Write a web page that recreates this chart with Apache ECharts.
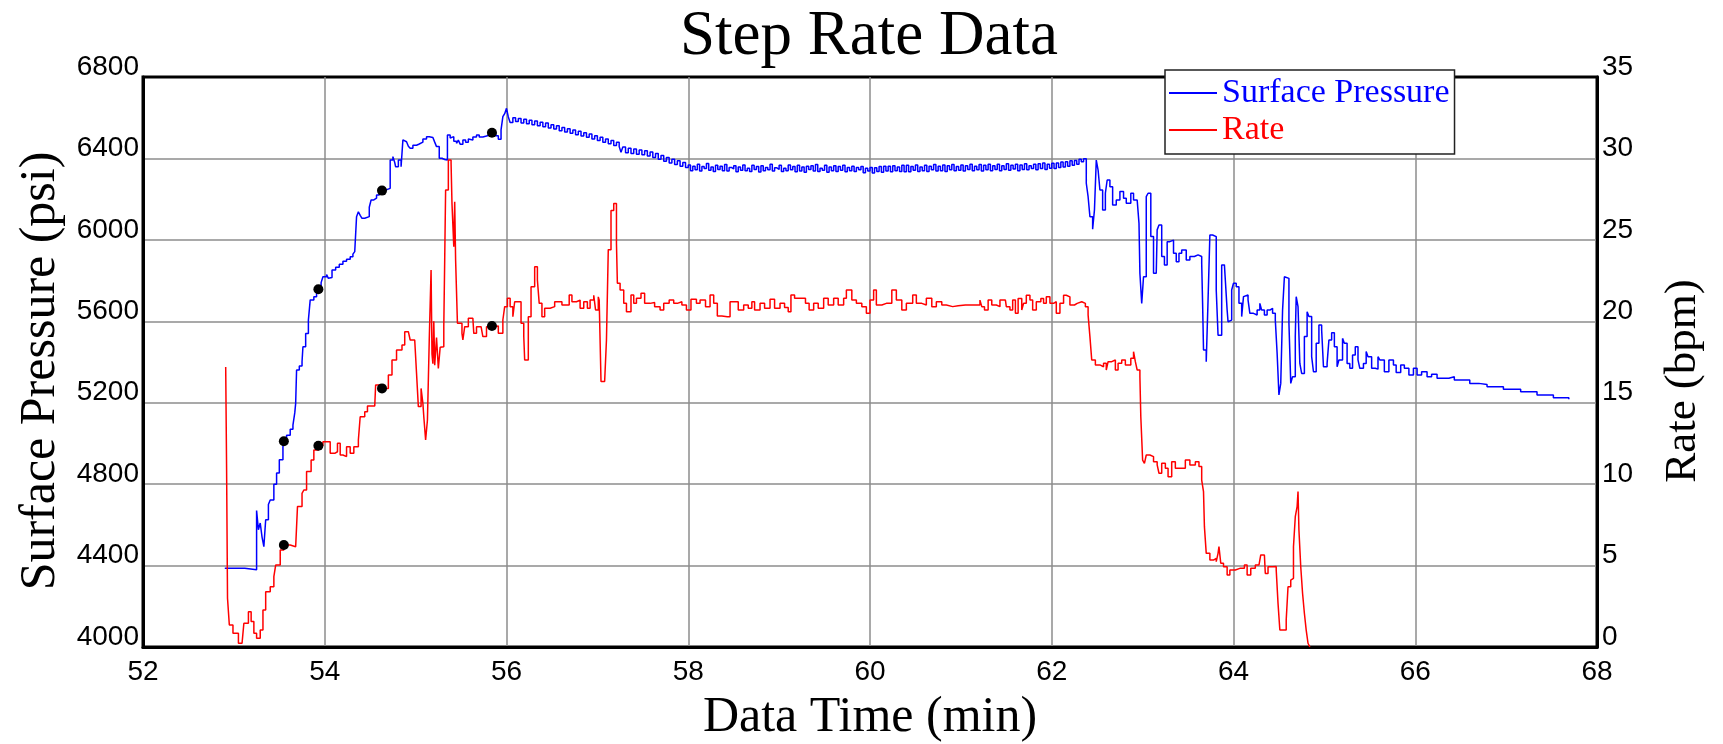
<!DOCTYPE html>
<html>
<head>
<meta charset="utf-8">
<script src="https://cdn.jsdelivr.net/npm/echarts@6/dist/echarts.min.js"></script>
<style>
html,body{margin:0;padding:0;background:#fff;}
#chart{width:1723px;height:744px;}
</style>
</head>
<body>
<div id="chart"></div>
<script>
// ---- Text ----
const chartTitle = 'Step Rate Data';
const xAxisName = 'Data Time (min)';
const leftAxisName = 'Surface Pressure (psi)';
const rightAxisName = 'Rate (bpm)';
const seriesNames = ['Surface Pressure', 'Rate'];

// ---- Axis ranges ----
const xRange = [52, 68, 2];
const pressureRange = [4000, 6800, 400];
const rateRange = [0, 35, 5];

// ---- Surface pressure (min, psi) ----
const pressurePoints = [
[52.90,4387],[53.12,4380],[53.25,4670],[53.27,4576],[53.29,4609],[53.31,4540],[53.33,4493],[53.35,4625],
[53.38,4700],[53.40,4722],[53.44,4800],[53.47,4855],[53.50,4920],[53.54,4984],[53.55,5011],[53.58,5040],
[53.62,5070],[53.65,5090],[53.67,5150],[53.68,5197],[53.69,5361],[53.72,5380],[53.75,5401],[53.76,5475],
[53.79,5540],[53.82,5606],[53.84,5705],[53.88,5720],[53.91,5745],[53.93,5757],[53.96,5790],[53.98,5819],
[54.02,5830],[54.04,5811],[54.06,5815],[54.08,5852],[54.12,5865],[54.16,5880],[54.20,5895],[54.24,5905],
[54.28,5917],[54.31,5930],[54.33,5942],[54.35,6114],[54.37,6138],[54.39,6120],[54.41,6106],[54.44,6110],
[54.46,6114],[54.49,6160],[54.51,6196],[54.54,6205],[54.57,6220],[54.60,6230],[54.63,6242],[54.66,6248],
[54.69,6253],[54.72,6392],[54.75,6409],[54.77,6380],[54.78,6359],[54.81,6392],[54.84,6359],[54.86,6491],
[54.88,6482],[54.90,6482],[54.92,6460],[54.94,6450],[54.97,6465],[55.01,6471],[55.04,6480],[55.08,6495],
[55.12,6507],[55.15,6503],[55.19,6499],[55.21,6480],[55.23,6458],[55.26,6401],[55.29,6395],[55.32,6392],
[55.35,6515],[55.38,6500],[55.40,6507],[55.42,6485],[55.45,6474],[55.47,6490],[55.49,6470],[55.52,6491],
[55.55,6480],[55.58,6495],[55.60,6491],[55.63,6505],[55.67,6515],[55.70,6505],[55.74,6510],[55.78,6515],
[55.81,6508],[55.84,6526],[55.88,6512],[55.91,6494],[55.94,6540],[55.96,6605],[55.98,6620],[56.00,6646],
[56.02,6604],[56.04,6576],[56.07,6600],[56.10,6582],[56.13,6596],[56.16,6574],[56.19,6592],[56.22,6570],
[56.25,6588],[56.28,6566],[56.31,6584],[56.34,6560],[56.37,6578],[56.40,6556],[56.43,6574],[56.46,6550],
[56.49,6566],[56.52,6544],[56.55,6560],[56.58,6536],[56.61,6552],[56.64,6530],[56.67,6546],[56.70,6524],
[56.73,6540],[56.76,6516],[56.79,6534],[56.82,6510],[56.85,6526],[56.88,6504],[56.91,6520],[56.94,6496],
[56.97,6512],[57.00,6488],[57.03,6504],[57.06,6480],[57.09,6496],[57.12,6472],[57.15,6488],[57.18,6464],
[57.21,6480],[57.24,6458],[57.26,6430],[57.28,6456],[57.31,6428],[57.34,6450],[57.37,6424],[57.40,6446],
[57.43,6420],[57.46,6442],[57.49,6418],[57.52,6438],[57.55,6412],[57.58,6432],[57.61,6404],[57.64,6424],
[57.67,6396],[57.70,6414],[57.73,6386],[57.76,6404],[57.79,6378],[57.82,6396],[57.85,6370],[57.88,6388],
[57.91,6362],[57.94,6380],[57.97,6356],
[58.000,6368],[58.025,6340],[58.050,6362],[58.075,6344],[58.100,6372],[58.125,6338],[58.150,6360],[58.175,6350],
[58.200,6375],[58.225,6342],[58.250,6358],[58.275,6336],[58.300,6366],[58.325,6346],[58.350,6362],[58.375,6340],
[58.400,6370],[58.425,6338],[58.450,6356],[58.475,6348],[58.500,6364],[58.525,6334],[58.550,6358],[58.575,6342],
[58.600,6368],[58.625,6340],[58.650,6352],[58.675,6336],[58.700,6366],[58.725,6346],[58.750,6360],[58.775,6333],
[58.800,6364],[58.825,6340],[58.850,6356],[58.875,6344],[58.900,6372],[58.925,6338],[58.950,6354],[58.975,6346],
[59.000,6366],[59.025,6336],[59.050,6352],[59.075,6340],[59.100,6368],[59.125,6344],[59.150,6360],[59.175,6334],
[59.200,6366],[59.225,6338],[59.250,6358],[59.275,6332],[59.300,6362],[59.325,6346],[59.350,6364],[59.375,6338],
[59.400,6370],[59.425,6336],[59.450,6352],[59.475,6342],[59.500,6366],[59.525,6332],[59.550,6358],[59.575,6340],
[59.600,6364],[59.625,6336],[59.650,6360],[59.675,6342],[59.700,6366],[59.725,6334],[59.750,6356],[59.775,6340],
[59.800,6362],[59.825,6336],[59.850,6356],[59.875,6344],[59.900,6360],[59.925,6330],[59.950,6352],[59.975,6338],
[60.000,6356],[60.025,6328],[60.050,6354],[60.075,6336],[60.100,6360],[60.125,6332],[60.150,6362],[60.175,6338],
[60.200,6362],[60.225,6334],[60.250,6364],[60.275,6340],[60.300,6358],[60.325,6336],[60.350,6366],[60.375,6334],
[60.400,6366],[60.425,6334],[60.450,6360],[60.475,6342],[60.500,6368],[60.525,6336],[60.550,6358],[60.575,6340],
[60.600,6366],[60.625,6336],[60.650,6362],[60.675,6344],[60.700,6370],[60.725,6338],[60.750,6362],[60.775,6340],
[60.800,6368],[60.825,6336],[60.850,6364],[60.875,6344],[60.900,6370],[60.925,6340],[60.950,6360],[60.975,6342],
[61.000,6368],[61.025,6338],[61.050,6364],[61.075,6346],[61.100,6372],[61.125,6340],[61.150,6362],[61.175,6344],
[61.200,6370],[61.225,6338],[61.250,6366],[61.275,6344],[61.300,6372],[61.325,6340],[61.350,6364],[61.375,6346],
[61.400,6372],[61.425,6340],[61.450,6364],[61.475,6346],[61.500,6374],[61.525,6342],[61.550,6366],[61.575,6348],
[61.600,6372],[61.625,6340],[61.650,6368],[61.675,6346],[61.700,6374],[61.725,6344],[61.750,6364],[61.775,6350],
[61.800,6372],[61.825,6344],[61.850,6374],[61.875,6350],[61.900,6378],[61.925,6346],[61.950,6372],[61.975,6352],
[62.000,6376],[62.025,6350],[62.050,6378],[62.075,6356],[62.100,6382],[62.125,6358],[62.150,6384],[62.175,6362],
[62.200,6388],[62.225,6366],[62.250,6390],[62.275,6372],[62.300,6396],[62.325,6384],[62.350,6398],
[62.38,6278],[62.40,6212],[62.42,6114],[62.45,6052],[62.47,6147],
[62.49,6392],[62.51,6343],[62.53,6245],[62.56,6147],[62.59,6229],[62.61,6294],[62.64,6261],[62.67,6171],
[62.71,6196],[62.75,6237],[62.79,6204],[62.82,6180],[62.87,6229],[62.90,6196],[62.94,6196],[62.96,6081],
[62.97,5836],[62.99,5688],[63.01,5819],[63.04,6212],[63.06,6229],[63.09,6016],[63.12,5836],[63.15,5836],
[63.16,6049],[63.18,6073],[63.21,5918],[63.24,5877],[63.27,5991],[63.30,5999],[63.34,5934],[63.37,5893],
[63.40,5934],[63.43,5950],[63.48,5901],[63.52,5918],[63.57,5926],[63.61,5918],[63.65,5885],[63.66,5688],
[63.67,5459],[63.70,5401],[63.72,5705],[63.74,6024],[63.77,6032],[63.79,6016],[63.81,5754],[63.83,5532],
[63.85,5532],[63.87,5877],[63.90,5868],[63.91,5803],[63.93,5655],[63.94,5598],[63.96,5606],[63.98,5754],
[64.00,5787],[64.03,5770],[64.06,5688],[64.09,5623],[64.11,5721],[64.13,5729],[64.16,5705],[64.18,5639],
[64.22,5631],[64.26,5655],[64.29,5688],[64.31,5655],[64.34,5631],[64.37,5655],[64.40,5664],[64.43,5639],
[64.46,5606],[64.48,5443],[64.50,5238],[64.52,5295],[64.54,5655],[64.56,5819],[64.58,5811],[64.61,5590],
[64.63,5295],[64.65,5328],[64.68,5525],[64.69,5721],[64.71,5672],[64.73,5393],[64.75,5344],[64.78,5525],
[64.81,5647],[64.83,5623],[64.86,5426],[64.88,5352],[64.91,5492],[64.94,5582],[64.97,5557],[64.99,5377],
[65.03,5393],[65.05,5508],[65.08,5544],[65.11,5475],[65.14,5377],[65.16,5410],[65.20,5516],[65.22,5492],
[65.25,5393],[65.28,5369],[65.31,5434],[65.34,5475],[65.37,5410],[65.39,5369],[65.43,5393],[65.46,5451],
[65.48,5426],[65.52,5369],[65.56,5365],[65.59,5426],[65.61,5410],[65.66,5352],[65.71,5410],[65.76,5385],
[65.79,5348],[65.84,5385],[65.88,5369],[65.93,5336],[65.98,5369],[66.02,5336],[66.07,5352],[66.13,5328],
[66.18,5340],[66.24,5320],[66.31,5320],[66.37,5328],[66.43,5312],[66.51,5312],[66.60,5295],[66.70,5290],
[66.79,5279],[66.97,5266],[67.16,5254],[67.34,5238],[67.52,5225],[67.69,5217]
];

// ---- Rate (min, bpm) ----
const ratePoints = [
[52.91,17.2],[52.92,10.87],[52.93,2.99],[52.95,1.35],[52.99,0.84],[53.05,0.23],[53.09,0.23],[53.11,1.46],
[53.16,2.17],[53.19,1.56],[53.22,0.84],[53.25,0.53],[53.29,1.04],[53.32,2.27],[53.35,3.40],[53.40,3.70],
[53.44,4.32],[53.46,5.03],[53.51,5.96],[53.55,6.26],[53.62,6.16],[53.68,6.06],[53.70,8.62],[53.75,9.44],
[53.77,9.64],[53.80,10.77],[53.85,11.48],[53.88,12.10],[53.93,12.36],[53.98,12.61],[54.06,11.89],[54.11,11.99],
[54.14,12.51],[54.17,11.79],[54.20,11.69],[54.24,12.30],[54.28,11.89],[54.32,12.30],[54.37,12.71],[54.39,14.14],
[54.44,14.45],[54.47,14.80],[54.55,14.80],[54.56,16.09],[54.63,15.88],[54.70,16.70],[54.74,17.62],[54.79,18.24],
[54.85,18.54],[54.88,19.36],[54.92,19.46],[54.94,18.85],[54.99,18.75],[55.01,16.81],[55.03,14.76],[55.06,15.88],
[55.08,14.96],[55.09,14.14],[55.11,12.71],[55.13,13.94],[55.15,18.85],[55.17,23.15],[55.18,18.0],[55.19,17.4],
[55.20,20.0],[55.21,17.3],[55.23,19.0],[55.25,17.1],[55.27,18.4],[55.29,18.44],[55.31,19.67],[55.32,23.76],
[55.33,28.06],[55.36,29.9],[55.39,29.7],[55.40,27.24],[55.42,24.58],[55.43,27.34],[55.44,23.76],[55.46,19.88],
[55.51,19.26],[55.52,18.85],[55.54,19.67],[55.58,20.18],[55.63,20.18],[55.64,19.26],[55.67,19.67],[55.72,19.57],
[55.74,19.06],[55.78,19.67],[55.84,19.71],[55.91,19.26],[55.96,20.08],[55.98,20.9],[56.01,21.41],[56.04,20.9],
[56.07,20.28],[56.09,21.2],[56.13,21.2],[56.16,19.88],[56.19,19.06],[56.20,17.62],[56.22,17.62],[56.24,20.28],
[56.27,22.12],[56.31,23.35],[56.34,22.53],[56.36,21.1],[56.39,20.28],[56.42,20.8],[56.48,20.9],[56.53,21.2],
[56.61,21.0],[56.66,21.0],[56.69,21.61],[56.72,21.2],[56.77,21.3],[56.81,20.8],[56.85,21.2],[56.89,20.8],
[56.92,21.3],[56.96,21.6],[56.98,20.7],[57.01,21.5],[57.02,21.3],[57.04,16.3],[57.08,16.3],[57.10,18.85],
[57.12,24.4],[57.15,26.8],[57.18,27.24],[57.21,24.79],[57.22,22.33],[57.25,21.92],[57.29,21.1],[57.32,20.59],
[57.37,21.61],[57.40,21.1],[57.43,21.41],[57.48,21.72],[57.52,21.1],[57.58,21.15],[57.63,20.9],[57.69,20.69],
[57.73,21.1],[57.79,21.3],[57.84,21.1],[57.88,21.2],[57.93,21.0],[57.98,20.69],[58.03,21.35],[58.09,21.1],
[58.13,21.3],[58.19,20.9],[58.24,21.61],[58.28,21.1],[58.32,20.32],[58.37,20.28],[58.43,20.28],[58.46,21.2],
[58.51,21.2],[58.55,20.69],[58.61,21.0],[58.66,20.8],[58.70,21.2],[58.73,20.69],[58.79,21.1],[58.84,20.8],
[58.90,21.35],[58.95,20.8],[59.01,21.1],[59.06,20.85],[59.10,20.59],[59.13,21.61],[59.17,21.41],[59.23,21.41],
[59.29,21.1],[59.33,20.69],[59.38,21.1],[59.43,20.8],[59.49,21.41],[59.54,21.0],[59.60,21.41],[59.65,21.0],
[59.71,21.41],[59.74,21.92],[59.80,21.3],[59.85,21.1],[59.91,20.9],[59.96,20.49],[60.00,21.3],[60.04,21.92],
[60.07,21.0],[60.13,21.1],[60.18,21.1],[60.24,21.92],[60.29,21.3],[60.35,20.69],[60.40,21.1],[60.47,21.61],
[60.51,21.1],[60.57,21.0],[60.62,21.41],[60.68,20.9],[60.73,21.2],[60.79,21.0],[60.84,20.9],[60.91,20.95],
[60.97,21.0],[61.05,21.0],[61.13,21.0],[61.21,21.3],[61.23,20.9],[61.26,20.69],[61.30,21.3],[61.34,21.0],
[61.39,20.9],[61.43,21.3],[61.49,21.2],[61.50,20.9],[61.54,20.69],[61.57,21.3],[61.60,20.49],[61.63,21.4],
[61.67,20.69],[61.69,21.1],[61.72,21.6],[61.76,21.3],[61.79,20.69],[61.83,21.2],[61.88,21.4],[61.91,21.1],
[61.94,21.5],[61.98,21.1],[62.02,21.2],[62.05,20.49],[62.09,21.1],[62.13,21.6],[62.16,21.5],[62.20,21.0],
[62.25,21.1],[62.28,21.2],[62.33,21.1],[62.37,20.9],[62.40,20.39],[62.42,19.06],[62.44,17.62],[62.48,17.32],
[62.53,17.21],[62.57,17.42],[62.60,17.01],[62.62,17.52],[62.66,17.62],[62.70,17.01],[62.73,17.42],[62.77,17.62],
[62.81,17.32],[62.84,17.32],[62.87,17.73],[62.90,18.13],[62.92,17.52],[62.94,17.01],[62.97,16.6],[62.98,14.14],
[63.00,11.48],[63.02,11.28],[63.04,11.79],[63.08,11.69],[63.12,11.38],[63.16,11.18],[63.18,10.67],[63.21,11.28],
[63.25,10.97],[63.28,10.46],[63.32,11.38],[63.36,10.97],[63.41,10.97],[63.47,11.48],[63.52,11.18],[63.58,11.38],
[63.62,11.08],[63.65,10.25],[63.67,9.54],[63.68,7.39],[63.70,5.75],[63.74,5.34],[63.78,5.44],[63.81,5.24],
[63.83,5.75],[63.84,6.16],[63.86,5.14],[63.89,4.93],[63.93,4.42],[63.96,4.73],[64.02,4.83],[64.07,4.83],
[64.12,5.03],[64.15,4.42],[64.19,4.83],[64.24,5.03],[64.28,5.14],[64.30,5.65],[64.34,5.65],[64.35,4.52],
[64.38,4.93],[64.43,4.95],[64.47,4.73],[64.49,2.68],[64.51,1.04],[64.55,1.04],[64.58,1.66],[64.60,3.70],
[64.63,4.11],[64.65,4.22],[64.66,6.16],[64.68,8.0],[64.70,8.62],[64.71,9.54],[64.72,7.18],[64.74,4.93],
[64.76,3.30],[64.78,2.07],[64.80,1.04],[64.82,0.23],[64.84,0]
];

// ---- Step markers ----
const stepTimes = [53.55, 53.93, 54.63, 55.84];
const stepPressures = [5011, 5757, 6242, 6526];
const stepRates = [6.26, 12.36, 15.88, 19.71];

const serif = '"Liberation Serif", "Times New Roman", serif';
const sans = '"Liberation Sans", Arial, sans-serif';

const chart = echarts.init(document.getElementById('chart'), null, {renderer: 'canvas'});

const gridLine = {show: true, showMinLine: false, showMaxLine: false, lineStyle: {color: '#8c8c8c', width: 1.5}};
const tickLabel = {color: '#000', fontFamily: sans, fontSize: 28, formatter: v => String(v)};
const blackAxis = {show: true, onZero: false, lineStyle: {color: '#000', width: 3}};

chart.setOption({
  animation: false,
  backgroundColor: '#ffffff',
  title: {
    text: chartTitle,
    left: 864,
    top: 1,
    textAlign: 'center',
    textStyle: {fontFamily: serif, fontSize: 63, fontWeight: 'normal', color: '#000', lineHeight: 63}
  },
  legend: {
    data: [
      {name: seriesNames[0], textStyle: {color: '#0000ff'}},
      {name: seriesNames[1], textStyle: {color: '#ff0000'}}
    ],
    orient: 'vertical',
    left: 1165,
    top: 70,
    padding: [6, 5, 7, 4],
    itemGap: 3,
    icon: 'rect',
    itemWidth: 48,
    itemHeight: 2,
    itemTextGap: 10,
    backgroundColor: '#ffffff',
    borderColor: '#222',
    borderWidth: 1.5,
    borderRadius: 0,
    textStyle: {fontFamily: serif, fontSize: 34, lineHeight: 34},
    z: 10
  },
  grid: {
    left: 143, right: 126, top: 77, bottom: 97,
    containLabel: false,
    outerBoundsMode: 'none',
    show: true, borderColor: '#000', borderWidth: 3, backgroundColor: 'transparent'
  },
  xAxis: {
    type: 'value',
    min: xRange[0], max: xRange[1], interval: xRange[2],
    name: xAxisName,
    nameLocation: 'middle',
    nameGap: 46,
    nameTextStyle: {fontFamily: serif, fontSize: 50, color: '#000', lineHeight: 50},
    axisLine: blackAxis,
    axisTick: {show: false},
    axisLabel: Object.assign({margin: 11}, tickLabel),
    splitLine: gridLine
  },
  yAxis: [
    {
      type: 'value',
      position: 'left',
      min: pressureRange[0], max: pressureRange[1], interval: pressureRange[2],
      name: leftAxisName,
      nameLocation: 'middle',
      nameGap: 62,
      nameRotate: 90,
      nameTextStyle: {fontFamily: serif, fontSize: 50, color: '#000', lineHeight: 50, padding: [0, 18, 0, 0]},
      axisLine: blackAxis,
      axisTick: {show: false},
      axisLabel: Object.assign({margin: 4, verticalAlign: 'bottom', lineHeight: 20}, tickLabel),
      splitLine: gridLine
    },
    {
      type: 'value',
      position: 'right',
      min: rateRange[0], max: rateRange[1], interval: rateRange[2],
      name: rightAxisName,
      nameLocation: 'middle',
      nameGap: 64,
      nameRotate: 90,
      nameTextStyle: {fontFamily: serif, fontSize: 45, color: '#000', lineHeight: 45, padding: [0, 38, 0, 0]},
      axisLine: blackAxis,
      axisTick: {show: false},
      axisLabel: Object.assign({margin: 5, verticalAlign: 'bottom', lineHeight: 20}, tickLabel),
      splitLine: {show: false}
    }
  ],
  series: [
    {
      name: seriesNames[0],
      type: 'line',
      yAxisIndex: 0,
      step: 'end',
      symbol: 'none',
      data: pressurePoints,
      lineStyle: {color: '#0000ff', width: 1.5},
      itemStyle: {color: '#0000ff'},
      z: 3
    },
    {
      name: seriesNames[1],
      type: 'line',
      yAxisIndex: 1,
      step: 'end',
      symbol: 'none',
      data: ratePoints,
      lineStyle: {color: '#ff0000', width: 1.5},
      itemStyle: {color: '#ff0000'},
      z: 3
    },
    {
      name: 'Pressure steps',
      type: 'scatter',
      yAxisIndex: 0,
      symbol: 'circle',
      symbolSize: 10,
      itemStyle: {color: '#000', opacity: 1},
      data: stepTimes.map((t, i) => [t, stepPressures[i]]),
      z: 5
    },
    {
      name: 'Rate steps',
      type: 'scatter',
      yAxisIndex: 1,
      symbol: 'circle',
      symbolSize: 10,
      itemStyle: {color: '#000', opacity: 1},
      data: stepTimes.map((t, i) => [t, stepRates[i]]),
      z: 5
    }
  ]
});
</script>
</body>
</html>
